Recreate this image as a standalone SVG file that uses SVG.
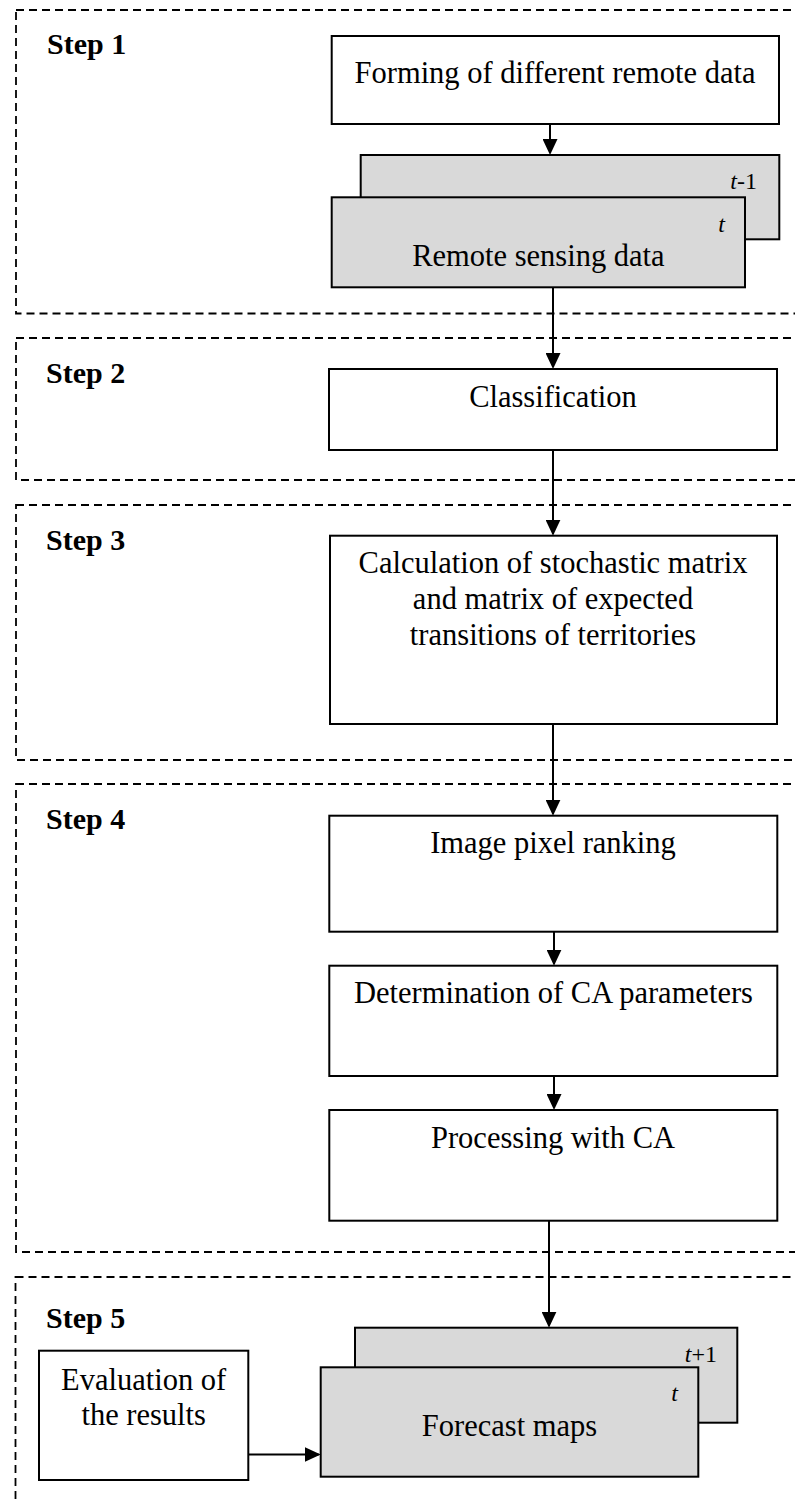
<svg xmlns="http://www.w3.org/2000/svg" width="795" height="1504" viewBox="0 0 795 1504">
<style>
.step{fill:none;stroke:#000;stroke-width:1.8;stroke-dasharray:8 5}
.box{fill:#fff;stroke:#000;stroke-width:2}
.gray{fill:#d9d9d9;stroke:#000;stroke-width:2}
.lbl{font-family:"Liberation Serif","Times New Roman",serif;font-size:30.5px;fill:#000;text-anchor:middle}
.stl{font-family:"Liberation Serif","Times New Roman",serif;font-size:30px;font-weight:bold;fill:#000}
.tl{font-family:"Liberation Serif","Times New Roman",serif;font-size:24px;fill:#000;text-anchor:end}
.it{font-style:italic}
.conn{stroke:#000;stroke-width:2;fill:none;marker-end:url(#ah)}
</style>
<defs>
<marker id="ah" viewBox="0 0 16 15" refX="14" refY="7.5" markerWidth="16" markerHeight="15" markerUnits="userSpaceOnUse" orient="auto">
<path d="M0,0 L16,7.5 L0,15 z" fill="#000"/>
</marker>
</defs>
<rect width="795" height="1504" fill="#fff"/>
<g id="steps">
<g id="step1"><rect class="step" x="16" y="10" width="800" height="303.5"/><text class="stl" x="47" y="54">Step 1</text></g>
<g id="step2"><rect class="step" x="16" y="338" width="800" height="142"/><text class="stl" x="46" y="383">Step 2</text></g>
<g id="step3"><rect class="step" x="16" y="505" width="800" height="255"/><text class="stl" x="46" y="550">Step 3</text></g>
<g id="step4"><rect class="step" x="16" y="784" width="800" height="468"/><text class="stl" x="46" y="829">Step 4</text></g>
<g id="step5"><rect class="step" x="15.5" y="1277" width="800" height="260"/><text class="stl" x="46" y="1328">Step 5</text></g>
</g>
<g id="connectors">
<line class="conn" x1="550" y1="124" x2="550" y2="153"/>
<line class="conn" x1="553" y1="287.3" x2="553" y2="367"/>
<line class="conn" x1="553" y1="450" x2="553" y2="533.7"/>
<line class="conn" x1="553" y1="724" x2="553" y2="813.7"/>
<line class="conn" x1="554" y1="931.7" x2="554" y2="963.7"/>
<line class="conn" x1="554" y1="1076" x2="554" y2="1108"/>
<line class="conn" x1="549" y1="1220.7" x2="549" y2="1325.7"/>
<line class="conn" x1="248.3" y1="1454.5" x2="318.7" y2="1454.5"/>
</g>
<g id="forming">
<rect class="box" x="331.7" y="36" width="447.3" height="88"/>
<text class="lbl" x="555" y="83">Forming of different remote data</text>
</g>
<g id="remote-sensing">
<rect class="gray" x="360.7" y="155" width="418.6" height="84.3"/>
<text class="tl" x="757" y="189"><tspan class="it">t</tspan>-1</text>
<rect class="gray" x="331.7" y="197.3" width="413.3" height="90"/>
<text class="tl" x="725" y="232" font-style="italic">t</text>
<text class="lbl" x="538.4" y="266">Remote sensing data</text>
</g>
<g id="classification">
<rect class="box" x="329" y="369" width="448" height="81"/>
<text class="lbl" x="553" y="407">Classification</text>
</g>
<g id="calculation">
<rect class="box" x="330" y="535.7" width="447" height="188.3"/>
<text class="lbl" x="553" y="573">Calculation of stochastic matrix</text>
<text class="lbl" x="553" y="609">and matrix of expected</text>
<text class="lbl" x="553" y="645">transitions of territories</text>
</g>
<g id="ranking">
<rect class="box" x="329.3" y="815.7" width="448" height="116"/>
<text class="lbl" x="553" y="853">Image pixel ranking</text>
</g>
<g id="ca-params">
<rect class="box" x="329.3" y="965.7" width="448" height="110.3"/>
<text class="lbl" x="553.5" y="1003">Determination of CA parameters</text>
</g>
<g id="processing">
<rect class="box" x="329.3" y="1110" width="448" height="110.7"/>
<text class="lbl" x="553" y="1148">Processing with CA</text>
</g>
<g id="forecast">
<rect class="gray" x="355" y="1327.7" width="382.3" height="95"/>
<text class="tl" x="717" y="1362"><tspan class="it">t</tspan>+1</text>
<rect class="gray" x="320.7" y="1367.3" width="377.6" height="109.4"/>
<text class="tl" x="678" y="1401" font-style="italic">t</text>
<text class="lbl" x="509.5" y="1436">Forecast maps</text>
</g>
<g id="evaluation">
<rect class="box" x="39" y="1350.7" width="209.3" height="129.3"/>
<text class="lbl" x="143.7" y="1390">Evaluation of</text>
<text class="lbl" x="143.7" y="1425">the results</text>
</g>
</svg>
